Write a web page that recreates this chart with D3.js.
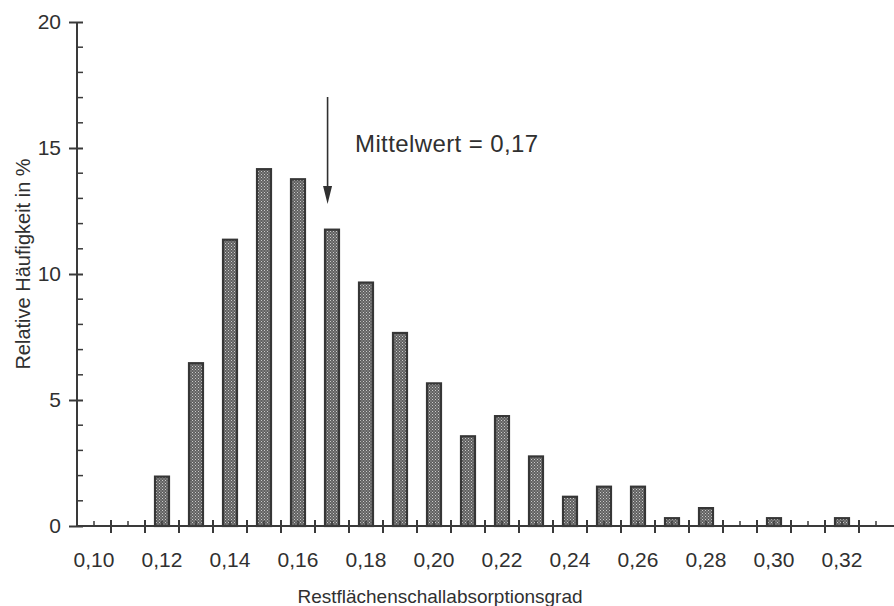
<!DOCTYPE html>
<html>
<head>
<meta charset="utf-8">
<script src="https://cdn.jsdelivr.net/npm/d3@7"></script>
<style>
  html, body { margin: 0; padding: 0; background: #fff; }
  svg { display: block; }
  text { font-family: "Liberation Sans", Arial, Helvetica, sans-serif; fill: #303030; }
</style>
</head>
<body>
<svg id="chart" width="894" height="606"></svg>
<script>
// ---- data ----
const categories = ["0,10","0,11","0,12","0,13","0,14","0,15","0,16","0,17","0,18","0,19","0,20","0,21",
                    "0,22","0,23","0,24","0,25","0,26","0,27","0,28","0,29","0,30","0,31","0,32","0,33"];
const values = [0, 0, 2.0, 6.5, 11.4, 14.2, 13.8, 11.8, 9.7, 7.7, 5.7, 3.6,
                4.4, 2.8, 1.2, 1.6, 1.6, 0.35, 0.75, 0, 0.35, 0, 0.35, 0];
const xTickLabels = ["0,10","0,12","0,14","0,16","0,18","0,20","0,22","0,24","0,26","0,28","0,30","0,32"];
const yTicks = [0, 5, 10, 15, 20];
const yMinorTicks = [1,2,3,4,6,7,8,9,11,12,13,14,16,17,18,19];
const meanValue = 0.1687;
const meanLabel = "Mittelwert = 0,17";
const xTitle = "Restflächenschallabsorptionsgrad";
const yTitle = "Relative Häufigkeit in %";

// ---- layout ----
const svg = d3.select("#chart");
const x0 = 77, x1 = 893, yBase = 526, yTop = 22;

const x = d3.scaleBand().domain(categories).range([x0, x1])
  .paddingInner(0.53).paddingOuter(0.265);
const step = x.step();
const xVal = d3.scaleLinear().domain([0.095, 0.335]).range([x0, x1]);
const y = d3.scaleLinear().domain([0, 20]).range([yBase, yTop]);

// pattern for stippled bars
const defs = svg.append("defs");
const pat = defs.append("pattern").attr("id", "stipple")
  .attr("patternUnits", "userSpaceOnUse").attr("width", 3).attr("height", 3);
pat.append("rect").attr("width", 3).attr("height", 3).attr("fill", "#606060");
pat.append("rect").attr("x", 0).attr("y", 0).attr("width", 1).attr("height", 1).attr("fill", "#cacaca");
pat.append("rect").attr("x", 1.5).attr("y", 1.5).attr("width", 1).attr("height", 1).attr("fill", "#b8b8b8");

// bars
svg.append("g").selectAll("rect")
  .data(categories.map((c, i) => ({c, v: values[i]})).filter(d => d.v > 0))
  .join("rect")
  .attr("x", d => x(d.c) + 1)
  .attr("y", d => y(d.v) + 1)
  .attr("width", x.bandwidth() - 2)
  .attr("height", d => y(0) - y(d.v) - 1)
  .attr("fill", "url(#stipple)")
  .attr("stroke", "#363636")
  .attr("stroke-width", 2.2);

const axisColor = "#3a3a3a";

// x axis
const gx = svg.append("g");
gx.append("line").attr("x1", x0).attr("x2", 894).attr("y1", yBase).attr("y2", yBase)
  .attr("stroke", axisColor).attr("stroke-width", 2);
// major ticks at bin boundaries
const boundaries = categories.map(c => x(c) - step * x.paddingInner() / 2).slice(1);
gx.selectAll("line.maj").data(boundaries).join("line").attr("class", "maj")
  .attr("x1", d => d).attr("x2", d => d).attr("y1", yBase - 6).attr("y2", yBase + 7)
  .attr("stroke", axisColor).attr("stroke-width", 2);
// minor ticks at bin centers
gx.selectAll("line.min").data(categories).join("line").attr("class", "min")
  .attr("x1", d => x(d) + x.bandwidth() / 2).attr("x2", d => x(d) + x.bandwidth() / 2)
  .attr("y1", yBase - 5).attr("y2", yBase)
  .attr("stroke", axisColor).attr("stroke-width", 1.5);
gx.selectAll("text").data(xTickLabels).join("text")
  .attr("x", d => x(d) + x.bandwidth() / 2).attr("y", 567)
  .attr("text-anchor", "middle").attr("font-size", 21).text(d => d);

// y axis
const yAxis = d3.axisLeft(y).tickValues(yTicks).tickSize(8).tickPadding(8).tickFormat(d3.format("d"));
const gy = svg.append("g").attr("transform", `translate(${x0},0)`).call(yAxis);
gy.select(".domain").remove();
gy.append("line").attr("x1", 0).attr("x2", 0).attr("y1", yTop).attr("y2", yBase)
  .attr("stroke", axisColor).attr("stroke-width", 2);
gy.selectAll(".tick line").attr("x1", 6).attr("x2", -8).attr("stroke", axisColor).attr("stroke-width", 2);
gy.selectAll(".tick text").attr("font-size", 21).attr("fill", "#303030")
  .attr("font-family", '"Liberation Sans", Arial, sans-serif').attr("x", -16);
gy.selectAll("line.ymin").data(yMinorTicks).join("line").attr("class", "ymin")
  .attr("x1", 0).attr("x2", 6).attr("y1", d => y(d)).attr("y2", d => y(d))
  .attr("stroke", axisColor).attr("stroke-width", 1.5);

// mean arrow
const ax = xVal(meanValue);
svg.append("line").attr("x1", ax).attr("x2", ax).attr("y1", 97).attr("y2", 192)
  .attr("stroke", "#303030").attr("stroke-width", 1.6);
svg.append("path")
  .attr("d", `M${ax - 4.5},186 L${ax + 4.5},186 L${ax},204 Z`)
  .attr("fill", "#303030");
svg.append("text").attr("x", 355).attr("y", 152).attr("font-size", 24)
  .attr("letter-spacing", 0.4).text(meanLabel);

// titles
svg.append("text").attr("x", 440).attr("y", 603).attr("text-anchor", "middle")
  .attr("font-size", 19).text(xTitle);
svg.append("text").attr("transform", "translate(30,264) rotate(-90)")
  .attr("text-anchor", "middle").attr("font-size", 20).text(yTitle);
</script>
</body>
</html>
